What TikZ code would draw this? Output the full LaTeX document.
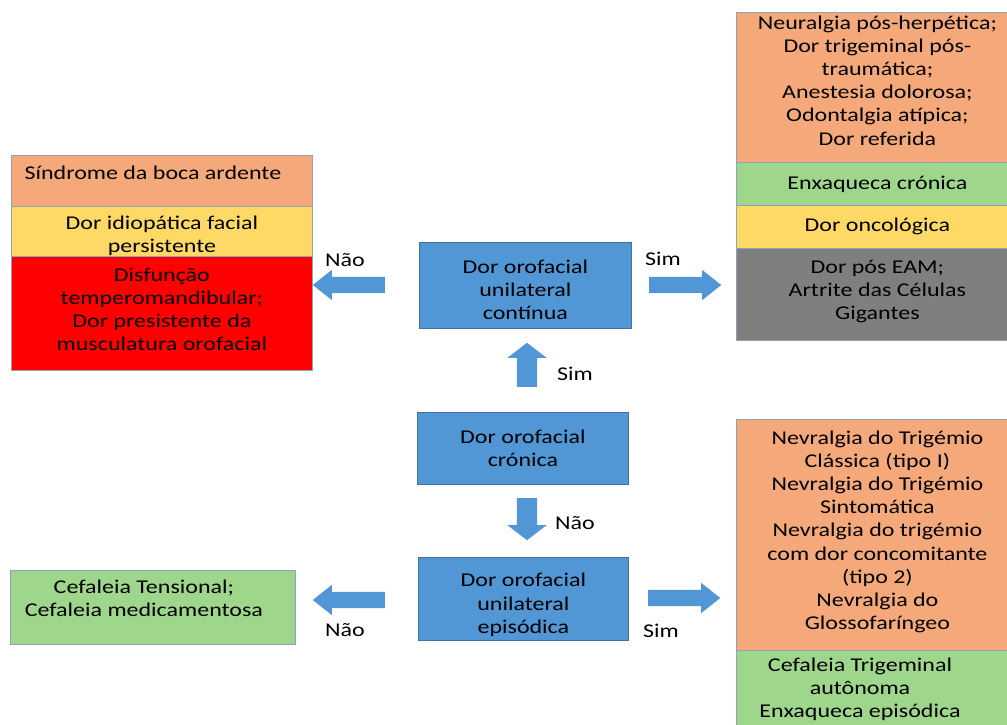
\documentclass[tikz,border=0pt]{standalone}
\usepackage{fontspec}
\setmainfont{Carlito}[FakeStretch=1.23]
\usetikzlibrary{shapes.arrows, positioning}
\definecolor{boxorange}{HTML}{F5A97A}
\definecolor{boxgreen}{HTML}{9ED68C}
\definecolor{boxyellow}{HTML}{FFD966}
\definecolor{boxred}{HTML}{FF0000}
\definecolor{boxgray}{HTML}{7F7F7F}
\definecolor{boxblue}{HTML}{5197D5}
\definecolor{blueframe}{HTML}{41719C}
\definecolor{grayframe}{HTML}{8FA3B8}

\begin{document}
\begin{tikzpicture}[x=1pt, y=-1pt,
    every node/.style={font=\fontsize{19.5}{23.2}\selectfont},
    section/.style={draw=grayframe, line width=0.8pt, inner sep=0pt, anchor=north west},
    question/.style={draw=blueframe, fill=boxblue, line width=0.8pt, inner sep=0pt, anchor=north west},
    boxtext/.style={inner sep=0pt, align=center},
    blockarrow/.style={single arrow, fill=boxblue, draw=none, inner xsep=0pt, anchor=tail},
    flatarrow/.style={blockarrow, minimum height=72pt, inner ysep=8pt, single arrow head extend=7pt, single arrow tip angle=77},
    tallarrow/.style={blockarrow, minimum height=44pt, inner ysep=10pt, single arrow head extend=9.5pt, single arrow tip angle=105},
    answer/.style={inner sep=0pt}
]
    \clip (0,0) rectangle (1007,725);

    % --- RIGHT TOP: continuous pain ---
    \node[section, fill=boxorange, minimum width=282, minimum height=150] (contA) at (736,12) {};
    \node[section, fill=boxgreen, minimum width=282, minimum height=43] (contB) at (736,162) {};
    \node[section, fill=boxyellow, minimum width=282, minimum height=43] (contC) at (736,205) {};
    \node[section, fill=boxgray, minimum width=282, minimum height=92] (contD) at (736,248) {};
    \node[boxtext] (contAtext) at ([yshift=7pt]contA.center)
        {Neuralgia pós-herpética;\\ Dor trigeminal pós-\\ traumática;\\ Anestesia dolorosa;\\ Odontalgia atípica;\\ Dor referida};
    \node[boxtext] (contBtext) at (contB.center) {Enxaqueca crónica};
    \node[boxtext] (contCtext) at (contC.center) {Dor oncológica};
    \node[boxtext] (contDtext) at ([yshift=3pt]contD.center) {Dor pós EAM;\\ Artrite das Células\\ Gigantes};

    % --- LEFT TOP: not unilateral ---
    \node[section, fill=boxorange, minimum width=301, minimum height=51] (bilatA) at (11,155) {};
    \node[section, fill=boxyellow, minimum width=301, minimum height=50] (bilatB) at (11,206) {};
    \node[section, fill=boxred, minimum width=301, minimum height=114] (bilatC) at (11,256) {};
    \node[boxtext] (bilatAtext) at ([xshift=-9pt, yshift=8.5pt]bilatA.center) {Síndrome da boca ardente};
    \node[boxtext] (bilatBtext) at ([yshift=-4.5pt]bilatB.center) {Dor idiopática facial\\ persistente};
    \node[boxtext] (bilatCtext) at ([yshift=4pt]bilatC.center)
        {Disfunção\\ temperomandibular;\\ Dor presistente da\\ musculatura orofacial};

    % --- MIDDLE: questions ---
    \node[question, minimum width=212, minimum height=86] (cont) at (419,242) {};
    \node[question, minimum width=211, minimum height=72] (cron) at (417,412) {};
    \node[question, minimum width=210, minimum height=83] (epis) at (418,557) {};
    \node[boxtext] (conttext) at ([yshift=-4.5pt]cont.center) {Dor orofacial\\ unilateral\\ contínua};
    \node[boxtext] (crontext) at (cron.center) {Dor orofacial\\ crónica};
    \node[boxtext] (epistext) at ([yshift=-6pt]epis.center) {Dor orofacial\\ unilateral\\ episódica};

    % --- LEFT BOTTOM ---
    \node[section, fill=boxgreen, minimum width=285, minimum height=74] (tens) at (10,570) {};
    \node[boxtext] (tenstext) at ([xshift=-9pt, yshift=9.5pt]tens.center) {Cefaleia Tensional;\\ Cefaleia medicamentosa};

    % --- RIGHT BOTTOM: episodic pain ---
    \node[section, fill=boxorange, minimum width=282, minimum height=231] (episA) at (736,419) {};
    \node[section, fill=boxgreen, minimum width=282, minimum height=90] (episB) at (736,650) {};
    \node[boxtext] (episAtext) at ([yshift=3pt]episA.center)
        {Nevralgia do Trigémio\\ Clássica (tipo I)\\ Nevralgia do Trigémio\\ Sintomática\\ Nevralgia do trigémio\\ com dor concomitante\\ (tipo 2)\\ Nevralgia do\\ Glossofaríngeo};
    \node[boxtext] (episBtext) at (860,689.5) {Cefaleia Trigeminal\\ autônoma\\ Enxaqueca episódica};

    % --- Block arrows ---
    \node[flatarrow, rotate=180] (contNo) at (385,285) {};
    \node[flatarrow] (contYes) at (649,285) {};
    \node[tallarrow, rotate=90] (cronYes) at (527,387) {};
    \node[tallarrow, rotate=-90, minimum height=42pt] (cronNo) at (527,498) {};
    \node[flatarrow, rotate=180] (episNo) at (385,600) {};
    \node[flatarrow] (episYes) at (648,598) {};

    % --- Answers ---
    \node[answer] (contNoLbl) at (345,260) {Não};
    \node[answer] (contYesLbl) at (663,259) {Sim};
    \node[answer] (cronYesLbl) at (575,374) {Sim};
    \node[answer] (cronNoLbl) at (575,523) {Não};
    \node[answer] (episNoLbl) at (345,630) {Não};
    \node[answer] (episYesLbl) at (661,631) {Sim};
\end{tikzpicture}
\end{document}
